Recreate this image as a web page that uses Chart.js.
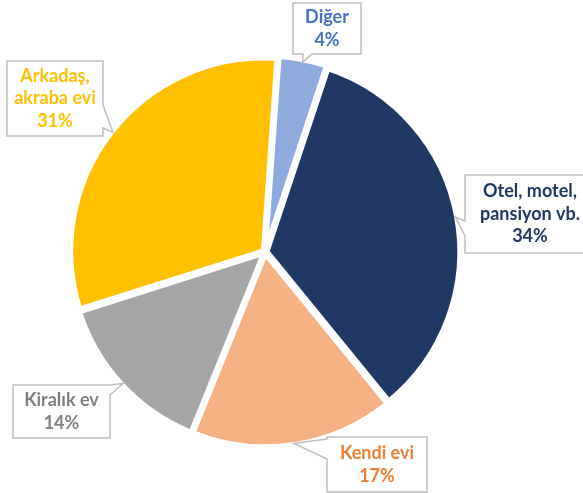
<!DOCTYPE html>
<html>
<head>
<meta charset="utf-8">
<script src="https://cdn.jsdelivr.net/npm/chart.js@4.4.1/dist/chart.umd.min.js"></script>
<style>
html, body { margin: 0; padding: 0; background: #fff; }
#wrap { width: 583px; height: 493px; position: relative; }
</style>
</head>
<body>
<div id="wrap"><canvas id="pieChart"></canvas></div>
<script>
const categories = [['Diğer'], ['Otel, motel,', 'pansiyon vb.'], ['Kendi evi'], ['Kiralık ev'], ['Arkadaş,', 'akraba evi']];
const shares = [4, 34, 17, 14, 31];
const sliceColors = ['#8FAADC', '#203864', '#F4B183', '#A5A5A5', '#FFC000'];
const labelColors = ['#4472C4', '#203864', '#ED7D31', '#7F7F7F', '#FFC000'];

// callout boxes: [x, y, w, h], which side the tail leaves from, tail base along that side
const callouts = [
    { box: [293, 3, 68, 51], side: 'bottom', base: [10, 19] },
    { box: [465, 175, 130, 78], side: 'left', base: [46, 61] },
    { box: [327, 437, 100, 55], side: 'left', base: [2, 22] },
    { box: [13, 385, 97, 53], side: 'right', base: [0, 10] },
    { box: [7, 61, 96, 75], side: 'right', base: [44, 67] }
];

const calloutPath = (ctx, c, tip) => {
    const [x, y, w, h] = c.box;
    const [a, b] = c.base;
    ctx.beginPath();
    ctx.moveTo(x, y);
    if (c.side === 'top') { ctx.lineTo(x + a, y); ctx.lineTo(tip.x, tip.y); ctx.lineTo(x + b, y); }
    ctx.lineTo(x + w, y);
    if (c.side === 'right') { ctx.lineTo(x + w, y + a); ctx.lineTo(tip.x, tip.y); ctx.lineTo(x + w, y + b); }
    ctx.lineTo(x + w, y + h);
    if (c.side === 'bottom') { ctx.lineTo(x + b, y + h); ctx.lineTo(tip.x, tip.y); ctx.lineTo(x + a, y + h); }
    ctx.lineTo(x, y + h);
    if (c.side === 'left') { ctx.lineTo(x, y + b); ctx.lineTo(tip.x, tip.y); ctx.lineTo(x, y + a); }
    ctx.closePath();
};

const calloutLabels = {
    id: 'calloutLabels',
    afterDraw(chart) {
        const ctx = chart.ctx;
        const arcs = chart.getDatasetMeta(0).data;
        const total = shares.reduce((s, v) => s + v, 0);
        arcs.forEach((arc, i) => {
            const c = callouts[i];
            const p = arc.getProps(['x', 'y', 'startAngle', 'endAngle', 'outerRadius'], true);
            const ang = (p.startAngle + p.endAngle) / 2;
            const r = p.outerRadius + 1;
            const tip = { x: p.x + Math.cos(ang) * r, y: p.y + Math.sin(ang) * r };

            ctx.save();
            calloutPath(ctx, c, tip);
            ctx.fillStyle = '#fff';
            ctx.fill();
            ctx.lineWidth = 1.5;
            ctx.strokeStyle = '#BFBFBF';
            ctx.stroke();

            const lines = [...categories[i], Math.round(shares[i] / total * 100) + '%'];
            const [x, y, w, h] = c.box;
            const lh = 22.5;
            const y0 = y + h / 2 - (lines.length - 1) * lh / 2;
            ctx.fillStyle = labelColors[i];
            ctx.font = 'bold 18px Lato';
            ctx.textAlign = 'center';
            ctx.textBaseline = 'middle';
            lines.forEach((t, k) => ctx.fillText(t, x + w / 2, y0 + k * lh));
            ctx.restore();
        });
    }
};

new Chart(document.getElementById('pieChart'), {
    type: 'pie',
    data: {
        labels: categories,
        datasets: [{
            data: shares,
            backgroundColor: sliceColors,
            borderColor: '#fff',
            borderWidth: 5,
            offset: 8,
            hoverOffset: 8
        }]
    },
    options: {
        responsive: true,
        maintainAspectRatio: false,
        animation: false,
        rotation: 4,
        layout: { padding: { left: 66, top: 53, right: 119, bottom: 42 } },
        plugins: {
            legend: { display: false },
            tooltip: { enabled: false }
        }
    },
    plugins: [calloutLabels]
});
</script>
</body>
</html>
